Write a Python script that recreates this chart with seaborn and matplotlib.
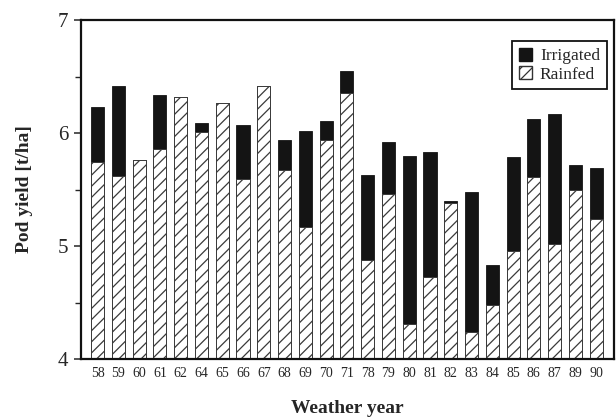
import matplotlib
matplotlib.use("Agg")
import matplotlib.pyplot as plt
from matplotlib.patches import Patch
from matplotlib.ticker import MultipleLocator
import seaborn as sns
import pandas as pd

# Weather years and simulated pod yield (t/ha)
years = ["58", "59", "60", "61", "62", "64", "65", "66", "67", "68", "69", "70", "71",
         "78", "79", "80", "81", "82", "83", "84", "85", "86", "87", "89", "90"]
irrigated = [6.23, 6.42, 5.76, 6.34, 6.32, 6.09, 6.27, 6.07, 6.42, 5.94, 6.02, 6.11, 6.55,
             5.63, 5.92, 5.80, 5.83, 5.40, 5.48, 4.83, 5.79, 6.12, 6.17, 5.72, 5.69]
rainfed = [5.74, 5.62, 5.76, 5.86, 6.32, 6.01, 6.27, 5.59, 6.42, 5.67, 5.17, 5.94, 6.35,
           4.88, 5.46, 4.31, 4.73, 5.38, 4.24, 4.48, 4.96, 5.61, 5.02, 5.50, 5.24]

df = pd.DataFrame({"year": years, "Irrigated": irrigated, "Rainfed": rainfed})

sns.set_style("ticks")
plt.rcParams["font.family"] = ["Liberation Serif", "DejaVu Serif"]
plt.rcParams["hatch.linewidth"] = 0.9

fig = plt.figure(figsize=(6.16, 4.19), dpi=100)
ax = fig.add_axes([0.1315, 0.1432, 0.865, 0.809])

bar_w = 0.63
sns.barplot(data=df, x="year", y="Irrigated", order=years, color="#141414",
            saturation=1, width=bar_w, edgecolor="#141414", linewidth=0.6, ax=ax)
sns.barplot(data=df, x="year", y="Rainfed", order=years, color="white",
            saturation=1, width=bar_w, edgecolor="#3a3a3a", linewidth=0.7,
            hatch="///", ax=ax)

ax.set_ylim(4, 7)
ax.set_xlim(-0.8, len(years) - 1 + 0.85)
ax.yaxis.set_major_locator(MultipleLocator(1))
ax.yaxis.set_minor_locator(MultipleLocator(0.5))
ax.tick_params(axis="y", which="major", direction="out", length=5, width=1.1,
               labelsize=15, pad=4)
ax.tick_params(axis="y", which="minor", direction="out", length=4, width=1.0)
ax.tick_params(axis="x", length=0, labelsize=10, pad=6)

for s in ax.spines.values():
    s.set_visible(True)
    s.set_linewidth(1.6)
    s.set_color("#111111")

ax.set_xlabel("Weather year", fontsize=14, fontweight="bold", labelpad=14)
ax.set_ylabel("Pod yield [t/ha]", fontsize=14, fontweight="bold", labelpad=18)

handles = [Patch(facecolor="#141414", edgecolor="#141414", label="Irrigated"),
           Patch(facecolor="white", edgecolor="#333333", hatch="///", label="Rainfed")]
leg = ax.legend(handles=handles, loc="upper right", bbox_to_anchor=(0.987, 0.938),
                borderaxespad=0, fancybox=False, framealpha=1, edgecolor="#111111",
                fontsize=12.5, handlelength=0.75, handleheight=0.75, handletextpad=0.45,
                labelspacing=0.1, borderpad=0.4)
leg.get_frame().set_linewidth(1.3)

fig.savefig("out.png", dpi=100)
